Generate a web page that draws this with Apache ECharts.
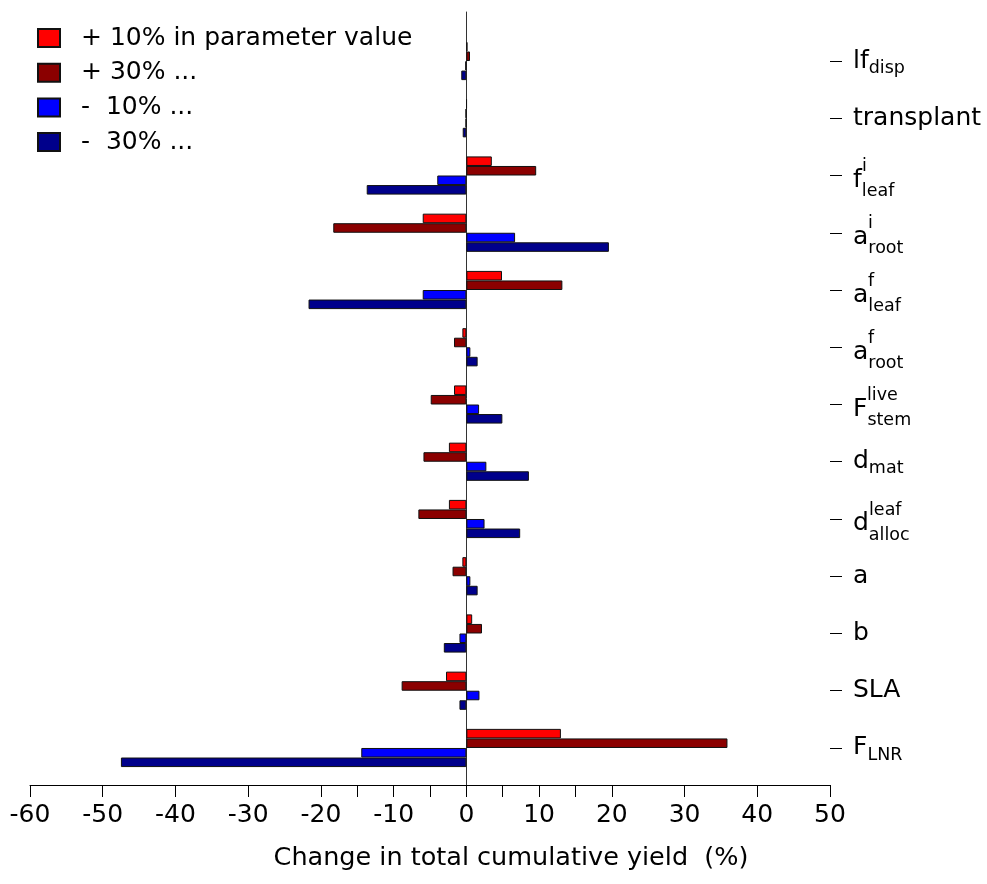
<!DOCTYPE html>
<html><head><meta charset="utf-8">
<script src="https://cdn.jsdelivr.net/npm/echarts@6/dist/echarts.min.js"></script>
<style>html,body{margin:0;padding:0;background:#fff}#c{width:987px;height:884px}</style>
</head><body><div id="c"></div>
<script>
// ---- data ----
const categories = ['lf_disp','transplant','f^i_leaf','a^i_root','a^f_leaf','a^f_root','F^live_stem','d_mat','d^leaf_alloc','a','b','SLA','F_LNR'];
const catMain = ['lf','transplant','f','a','a','a','F','d','d','a','b','SLA','F'];
const catSup  = ['','','i','i','f','f','live','','leaf','','','',''];
const catSub  = ['disp','','leaf','root','leaf','root','stem','mat','alloc','','','','LNR'];
const seriesNames = ['+ 10% in parameter value','+ 30% ...','-  10% ...','-  30% ...'];
const plus10  = [0.15, 0.05, 3.5, -6.0, 4.9, -0.55, -1.7, -2.4, -2.4, -0.55, 0.8, -2.8, 13.0];
const plus30  = [0.5, -0.1, 9.6, -18.3, 13.2, -1.7, -4.9, -5.9, -6.6, -1.9, 2.15, -8.9, 35.9];
const minus10 = [-0.15, -0.1, -4.0, 6.7, -6.0, 0.55, 1.75, 2.75, 2.5, 0.55, -0.95, 1.8, -14.45];
const minus30 = [-0.7, -0.5, -13.7, 19.6, -21.7, 1.55, 4.95, 8.6, 7.4, 1.55, -3.1, -0.95, -47.5];
const xTickValues  = [-60,-50,-40,-30,-20,-15,-10,-5,0,5,10,15,20,30,40,50];
const xLabelValues = [-60,-50,-40,-30,-20,-10,0,10,20,30,40,50];
const colors = ['#FF0000','#8B0000','#0000FF','#00008B'];

// ---- styling ----
const FONT = 'DejaVu Sans';
const FS = 25, SFS = 17.5;
const ctx = document.createElement('canvas').getContext('2d');
ctx.font = FS + 'px "' + FONT + '"';
const rich = {
  m:  {fontSize: FS, fontFamily: FONT, lineHeight: 30, color: '#000'},
  s:  {fontSize: SFS, fontFamily: FONT, lineHeight: 30, padding: [14,0,0,0], color: '#000'},
  s2: {fontSize: SFS, fontFamily: FONT, lineHeight: 30, padding: [22,0,0,0], color: '#000'}
};
catMain.forEach(function (m, i) {
  if (catSup[i]) {
    rich['p' + i] = {fontSize: SFS, fontFamily: FONT, lineHeight: 10, padding: [12,0,0,Math.round(ctx.measureText(m).width)], color: '#000'};
  }
});
function yLabel(value) {
  const i = categories.indexOf(value);
  let s = '';
  if (catSup[i]) {
    s += '{p' + i + '|' + catSup[i] + '}\n';
    s += '{m|' + catMain[i] + '}' + (catSub[i] ? '{s2|' + catSub[i] + '}' : '');
  } else {
    s += '{m|' + catMain[i] + '}' + (catSub[i] ? '{s|' + catSub[i] + '}' : '');
  }
  return s;
}

const seriesData = [plus10, plus30, minus10, minus30];
const chart = echarts.init(document.getElementById('c'));
const option = {
  animation: false,
  backgroundColor: '#fff',
  textStyle: {fontFamily: FONT},
  legend: {
    orient: 'vertical', left: 37, top: 25.5, padding: 0,
    itemWidth: 22, itemHeight: 18, itemGap: 9.7, icon: 'rect',
    data: seriesNames,
    textStyle: {fontSize: FS, fontFamily: FONT, color: '#000', lineHeight: 25, padding: [0,0,0,16]}
  },
  grid: [
    {left: 30, right: 157, top: 12, bottom: 99},
    {left: 30, right: 157, top: 32.4, bottom: 107.4}
  ],
  xAxis: [
    {gridIndex: 0, type: 'value', min: -60, max: 50,
     axisLine: {onZero: false, lineStyle: {color: '#000', width: 1}},
     axisTick: {customValues: xTickValues, length: 12, lineStyle: {color: '#000'}},
     axisLabel: {customValues: xLabelValues, fontSize: FS, fontFamily: FONT, color: '#000', margin: 18},
     splitLine: {show: false},
     name: 'Change in total cumulative yield  (%)', nameLocation: 'middle', nameGap: 60,
     nameTextStyle: {fontSize: 25.5, fontFamily: FONT, color: '#000', padding: [0,0,0,162]}},
    {gridIndex: 1, type: 'value', min: -60, max: 50, show: false}
  ],
  yAxis: [
    {gridIndex: 0, type: 'value', min: 0, max: 1,
     axisLine: {show: true, onZero: true, lineStyle: {color: '#333', width: 1}},
     axisTick: {show: false}, axisLabel: {show: false}, splitLine: {show: false}},
    {gridIndex: 1, type: 'category', data: categories, inverse: true, position: 'right',
     axisLine: {show: false, onZero: false},
     axisTick: {show: true, alignWithLabel: true, length: 12, lineStyle: {color: '#000'}},
     axisLabel: {margin: 23, formatter: yLabel, rich: rich}}
  ],
  series: seriesNames.map(function (n, k) {
    return {
      name: n, type: 'bar', xAxisIndex: 1, yAxisIndex: 1,
      data: seriesData[k], barGap: '0%', barCategoryGap: '33.3%',
      itemStyle: {color: colors[k], borderColor: '#111', borderWidth: 1}
    };
  })
};
chart.setOption(option);
</script></body></html>
